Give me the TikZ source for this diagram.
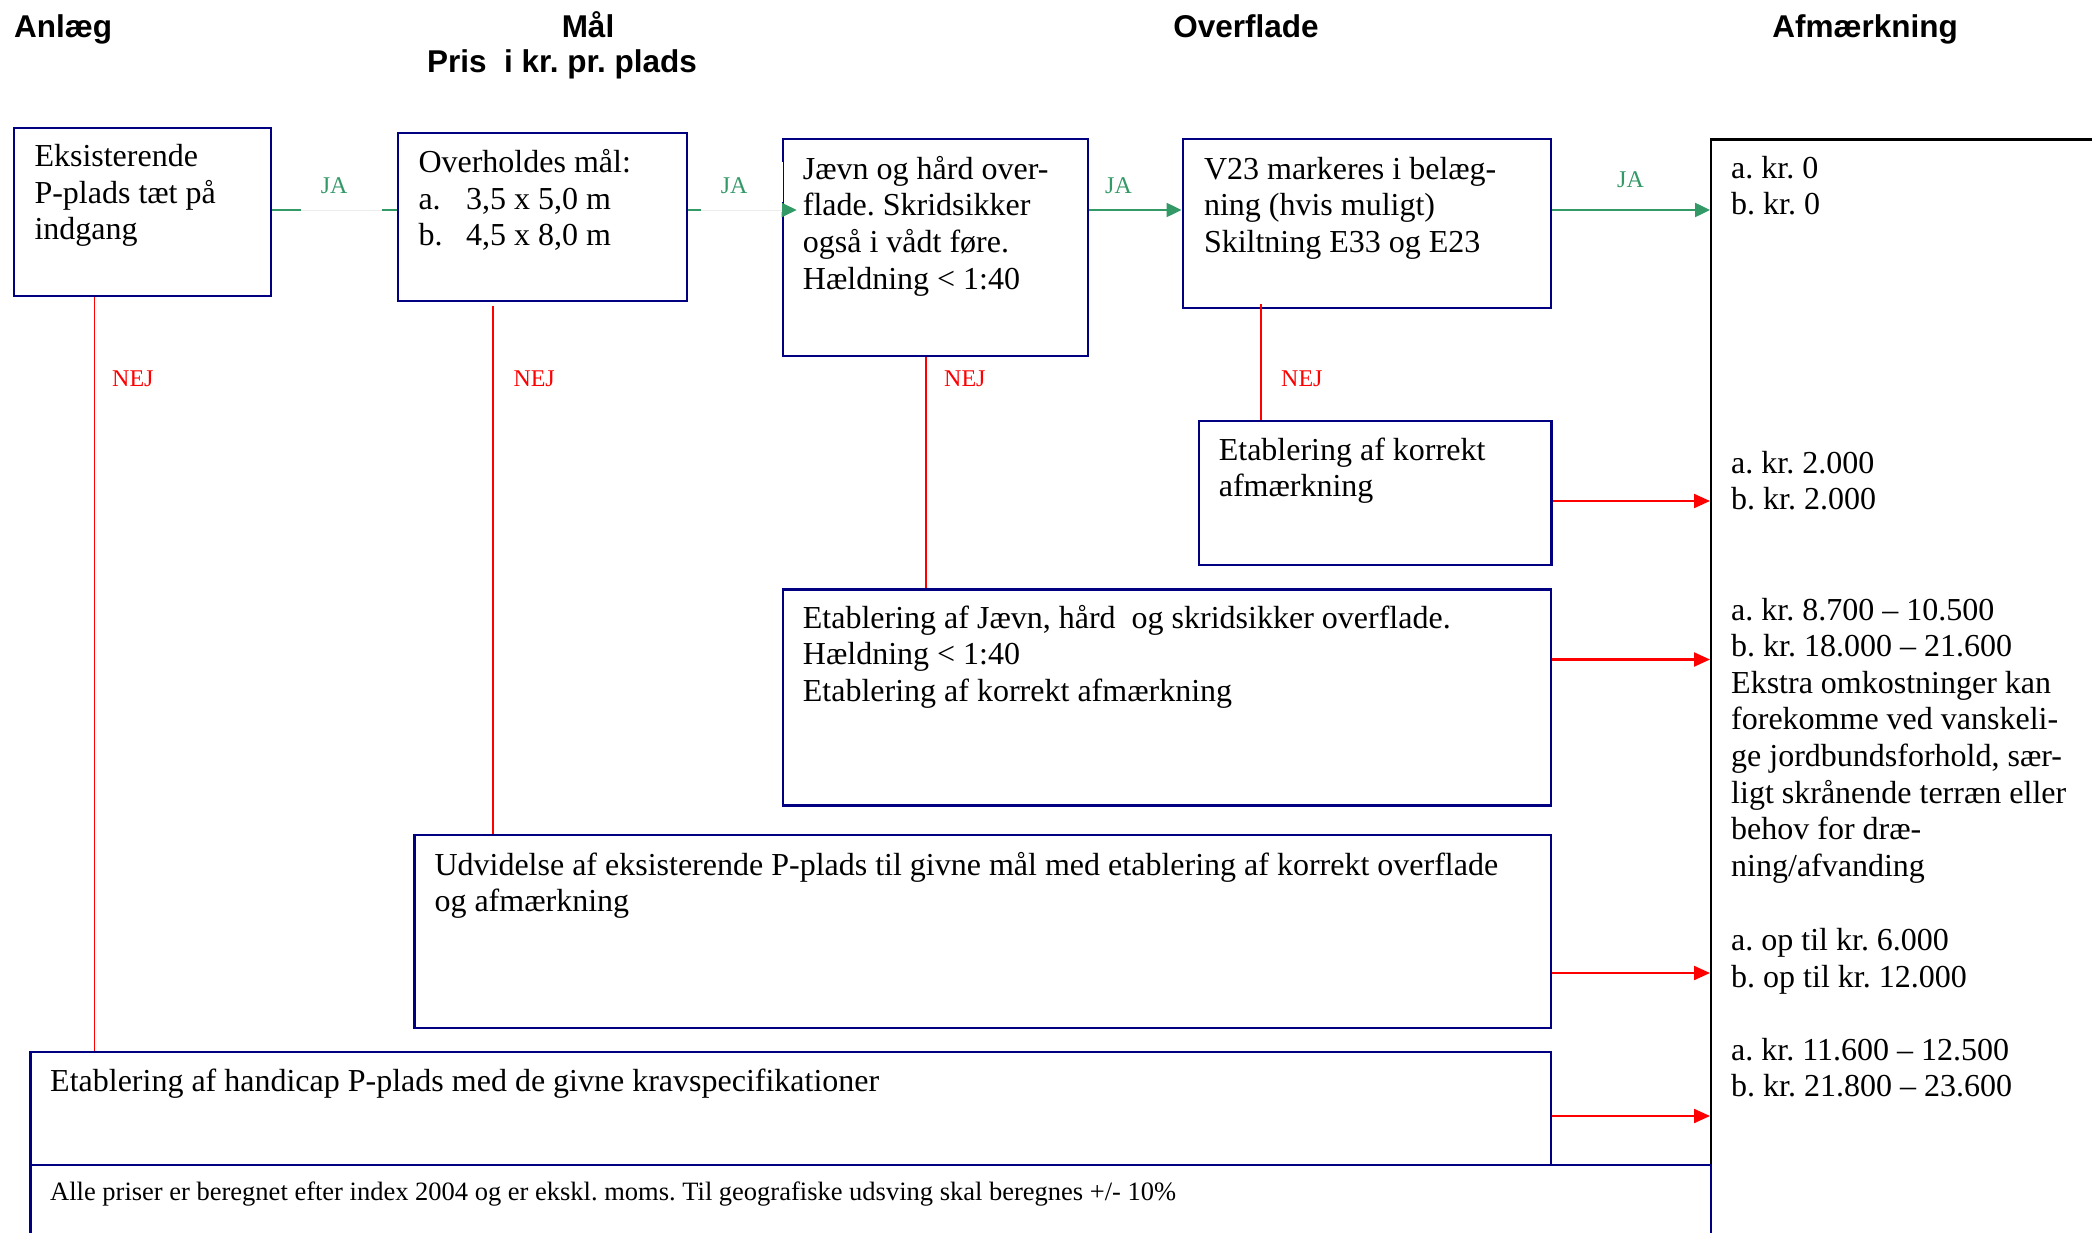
\documentclass[tikz,border=0pt]{standalone}
\usepackage{fontspec}
\setmainfont{Liberation Serif}
\newfontfamily\hdrfont{Liberation Sans}
\usetikzlibrary{arrows.meta,calc}
\definecolor{navy}{RGB}{0,0,128}
\definecolor{jagreen}{RGB}{51,153,102}
\definecolor{nejred}{RGB}{255,0,0}
\definecolor{faintgray}{RGB}{236,236,236}
\newcommand\stk[1]{\vtop{\lineskiplimit=-100pt\relax\halign{##\hfil\cr#1\crcr}}}
\frenchspacing
\begin{document}
\begin{tikzpicture}[x=1pt,y=-1pt,
 box/.style={draw=navy,line width=2.2pt,inner sep=0pt,anchor=north west,rectangle},
 body/.style={anchor=base west,inner sep=0pt,font=\fontsize{32}{36.6}\selectfont},
 hdr/.style={anchor=base,inner sep=0pt,font=\hdrfont\bfseries\fontsize{31.5}{36}\selectfont},
 jalbl/.style={anchor=base west,inner sep=0pt,text=jagreen,font=\fontsize{24}{28}\selectfont},
 nejlbl/.style={anchor=base west,inner sep=0pt,text=nejred,font=\fontsize{24}{28}\selectfont},
 jaline/.style={draw=jagreen,line width=2.4pt},
 jaarrow/.style={jaline,-{Triangle[length=15pt,width=14pt]}},
 nejline/.style={draw=nejred,line width=1.6pt},
 nejarrow/.style={draw=nejred,line width=2.2pt,-{Triangle[length=16pt,width=14pt]}},
]
\useasboundingbox (0,0) rectangle (2092,1233);
\clip (0,0) rectangle (2092,1233);

% headers
\node[hdr,anchor=base west] (h1) at (14,37.3) {Anlæg};
\node[hdr] (h2) at (588,37.3) {Mål};
\node[hdr] (h3) at (562,72.7) {Pris\ \ i kr. pr. plads};
\node[hdr] (h4) at (1246,37.3) {Overflade};
\node[hdr] (h5) at (1865,37.3) {Afmærkning};

% right column box (open to the right)
\node[draw=black,line width=2.4pt,inner sep=0pt,anchor=north west,minimum width=500pt,minimum height=1200pt] (rb) at (1710,138.3) {};

% boxes
\node[box,minimum width=257pt,minimum height=168pt] (a) at (13,127) {};
\node[box,minimum width=289pt,minimum height=168.3pt] (b) at (397,131.7) {};
\node[box,minimum width=304.8pt,minimum height=216.7pt] (c) at (781.7,138.3) {};
\node[box,minimum width=368.5pt,minimum height=168.4pt] (d) at (1181.5,138.3) {};
\node[box,minimum width=352.8pt,minimum height=143.7pt] (e) at (1197.6,420) {};
\node[box,minimum width=768.3pt,minimum height=216pt] (f) at (781.7,588.3) {};
\node[box,minimum width=1136.7pt,minimum height=192.7pt] (g) at (413.3,834) {};
\node[box,minimum width=1520.7pt,minimum height=113.5pt] (h) at (29.3,1050.5) {};
\node[box,minimum width=1680.7pt,minimum height=200pt] (foot) at (29.3,1164) {};

% box texts
\node[body] (ta) at (34.3,166.7) {\stk{Eksisterende\cr P-plads tæt på\cr indgang}};
\node[body] (tb) at (418.3,172.5) {\stk{Overholdes mål:\cr \makebox[47.7pt][l]{a.}3,5 x 5,0 m\cr \makebox[47.7pt][l]{b.}4,5 x 8,0 m}};
\node[body] (tc) at (802.7,179.3) {\stk{Jævn og hård over-\cr flade. Skridsikker\cr også i vådt føre.\cr Hældning < 1:40}};
\node[body] (td) at (1203.8,179.3) {\stk{V23 markeres i belæg-\cr ning (hvis muligt)\cr Skiltning E33 og E23}};
\node[body] (te) at (1218.6,460) {\stk{Etablering af korrekt\cr afmærkning}};
\node[body] (tf) at (802.7,628.3) {\stk{Etablering af Jævn, hård\ \ og skridsikker overflade.\cr Hældning < 1:40\cr Etablering af korrekt afmærkning}};
\node[body] (tg) at (434.3,875) {\stk{Udvidelse af eksisterende P-plads til givne mål med etablering af korrekt overflade\cr og afmærkning}};
\node[body] (th) at (50,1091) {Etablering af handicap P-plads med de givne kravspecifikationer};
\node[body,font=\fontsize{26.5}{30}\selectfont] (tfoot) at (50,1200) {Alle priser er beregnet efter index 2004 og er ekskl. moms. Til geografiske udsving skal beregnes +/- 10\%};

% right column texts
\node[body] (r1) at (1731,178.3) {\stk{a. kr. 0\cr b. kr. 0}};
\node[body] (r2) at (1731,473.3) {\stk{a. kr. 2.000\cr b. kr. 2.000}};
\node[body] (r3) at (1731,620) {\stk{a. kr. 8.700 – 10.500\cr b. kr. 18.000 – 21.600\cr Ekstra omkostninger kan\cr forekomme ved vanskeli-\cr ge jordbundsforhold, sær-\cr ligt skrånende terræn eller\cr behov for dræ-\cr ning/afvanding}};
\node[body] (r4) at (1731,950.7) {\stk{a. op til kr. 6.000\cr b. op til kr. 12.000}};
\node[body] (r5) at (1731,1060) {\stk{a. kr. 11.600 – 12.500\cr b. kr. 21.800 – 23.600}};

% JA connectors
\coordinate (jy) at (0,210);
\draw[jaline] (a.east |- jy) -- (b.west |- jy);
\draw[jaarrow] (b.east |- jy) -- ($(c.west |- jy)+(15,0)$);
\draw[jaarrow] (c.east |- jy) -- (d.west |- jy);
\draw[jaarrow] (d.east |- jy) -- (rb.west |- jy);
\fill[white] (301,160) rectangle (381.7,212);
\fill[white] (701,161.7) rectangle (781.6,212);
\fill[white] (781.6,161.7) rectangle (783,202.5);
\draw[faintgray,line width=1.2pt] (301,210.5) -- (381.7,210.5);
\draw[faintgray,line width=1.2pt] (701,210.5) -- (781.6,210.5);

\node[jalbl] (ja1) at (320.7,194) {JA};
\node[jalbl] (ja2) at (720.7,194) {JA};
\node[jalbl] (ja3) at (1105,194) {JA};
\node[jalbl] (ja4) at (1617,187.3) {JA};

% NEJ connectors
\coordinate (n1) at (94.3,0);
\coordinate (n2) at (493,0);
\coordinate (n3) at (925.8,0);
\coordinate (n4) at (1261,0);
\draw[nejline] (a.south -| n1) -- (h.north -| n1);
\draw[nejline] ($(b.south -| n2)+(0,4)$) -- (g.north -| n2);
\draw[nejline] (c.south -| n3) -- (f.north -| n3);
\draw[nejline] ($(d.south -| n4)+(0,-5)$) -- (e.north -| n4);

\node[nejlbl] (nej1) at (112,386) {NEJ};
\node[nejlbl] (nej2) at (513.3,386) {NEJ};
\node[nejlbl] (nej3) at (944,386) {NEJ};
\node[nejlbl] (nej4) at (1281,386) {NEJ};

% red arrows to price column
\coordinate (ye) at (0,501);
\coordinate (yf) at (0,659.5);
\coordinate (yg) at (0,973);
\coordinate (yh) at (0,1116);
\draw[nejarrow] (e.east |- ye) -- (rb.west |- ye);
\draw[nejarrow] (f.east |- yf) -- (rb.west |- yf);
\draw[nejarrow] (g.east |- yg) -- (rb.west |- yg);
\draw[nejarrow] (h.east |- yh) -- (rb.west |- yh);
\end{tikzpicture}
\end{document}
